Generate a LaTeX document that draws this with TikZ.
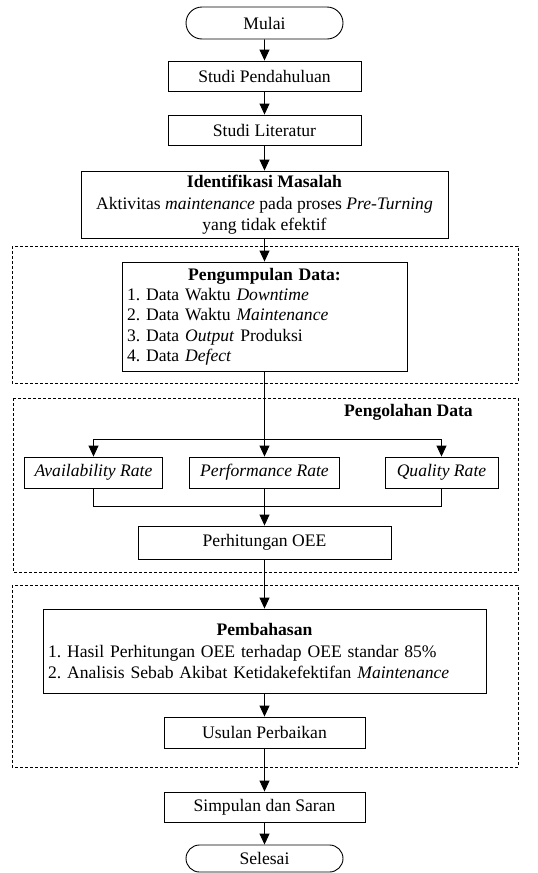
\documentclass[tikz,border=0pt]{standalone}
\usepackage{fontspec}
\setmainfont{Liberation Serif}
\usetikzlibrary{arrows.meta,shapes.misc}
\begin{document}
\frenchspacing
\begin{tikzpicture}[x=1pt,y=-1pt,
  font=\fontsize{17.6}{20.3}\selectfont\frenchspacing, line width=0.9pt,
  box/.style={draw, rectangle, inner sep=0pt, align=center},
  term/.style={draw, rounded rectangle, minimum width=157pt, inner sep=0pt},
  arr/.style={-{Triangle[width=10pt,length=11pt]}},
  dbox/.style={draw, dash pattern=on 3pt off 2pt, line width=0.7pt}]
\useasboundingbox (0,0) rectangle (538,873);

% dashed group frames
\draw[dbox] (12,246) rectangle (518,383);
\draw[dbox] (13,398) rectangle (518,572);
\draw[dbox] (12,585) rectangle (518,767);

\node[term, minimum height=32pt] (start) at (264.5,23) {Mulai};
\node[box, minimum width=193pt, minimum height=30pt] (sp) at (264.5,76) {Studi Pendahuluan};
\node[box, minimum width=193pt, minimum height=30pt] (sl) at (264.5,130) {Studi Literatur};
\node[box, minimum width=367pt, minimum height=67pt] (im) at (264.5,204.5)
  {\textbf{Identifikasi Masalah}\\[2pt] Aktivitas \textit{maintenance} pada proses \textit{Pre-Turning}\\ yang tidak efektif};

\node[box, minimum width=285pt, minimum height=109pt, text width=275pt, align=left] (pd) at (264.5,316.5)
  {\makebox[275pt][c]{\textbf{Pengumpulan Data:}}\\
   1. Data Waktu \textit{Downtime}\\
   2. Data Waktu \textit{Maintenance}\\
   3. Data \textit{Output} Produksi\\
   4. Data \textit{Defect}};

\node[font=\fontsize{17.6}{20.3}\selectfont\bfseries, inner sep=0pt] (pl) at (408.5,412) {Pengolahan Data};

\node[box, minimum width=138pt, minimum height=31pt] (av) at (93.5,472.5) {\textit{Availability Rate}};
\node[box, minimum width=150pt, minimum height=31pt] (pr) at (264.5,472.5) {\textit{Performance Rate}};
\node[box, minimum width=113pt, minimum height=31pt] (qr) at (441.5,472.5) {\textit{Quality Rate}};

\node[box, minimum width=253pt, minimum height=33pt] (oee) at (264.5,542.5) {Perhitungan OEE};

\node[box, minimum width=443pt, minimum height=84pt, text width=433pt, align=left] (pb) at (264.5,651)
  {\makebox[433pt][c]{\textbf{Pembahasan}}\\[2pt]
   1. Hasil Perhitungan OEE terhadap OEE standar 85\%\\
   2. Analisis Sebab Akibat Ketidakefektifan \textit{Maintenance}};

\node[box, minimum width=201pt, minimum height=31pt] (up) at (264.5,732.5) {Usulan Perbaikan};
\node[box, minimum width=201pt, minimum height=30pt] (ss) at (264.5,807) {Simpulan dan Saran};
\node[term, minimum height=27pt] (end) at (264.5,858.5) {Selesai};

% connectors
\draw[arr] (start) -- (sp);
\draw[arr] (sp) -- (sl);
\draw[arr] (sl) -- (im);
\draw[arr] (im) -- (pd);
\coordinate (split) at (264.5,439);
\coordinate (merge) at (264.5,506);
\draw[arr] (pd) -- (pr);
\draw[arr] (split) -| (av.north);
\draw[arr] (split) -| (qr.north);
\draw (av.south) |- (qr.south |- merge) -- (qr.south);
\draw[arr] (pr) -- (oee);
\draw[arr] (oee) -- (pb);
\draw[arr] (pb) -- (up);
\draw[arr] (up) -- (ss);
\draw[arr] (ss) -- (end);
\end{tikzpicture}
\end{document}
